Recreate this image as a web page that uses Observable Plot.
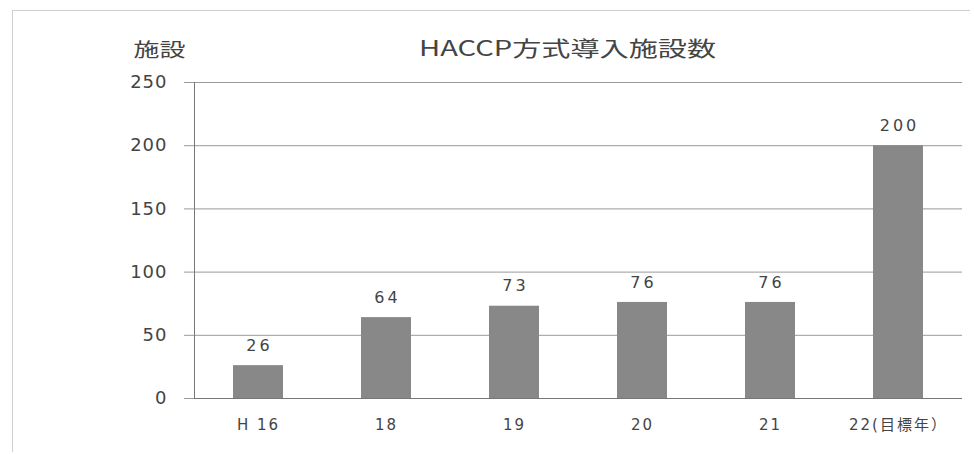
<!DOCTYPE html>
<html><head><meta charset="utf-8">
<script src="https://cdn.jsdelivr.net/npm/d3@7"></script>
<script src="https://cdn.jsdelivr.net/npm/@observablehq/plot@0.6"></script>
<style>
body{margin:0;background:#fff;}
#wrap{position:relative;width:974px;height:454px;}
#border{position:absolute;left:12px;top:10px;width:957px;height:441px;border:1px solid #cfcfcf;border-right:none;border-bottom:none;pointer-events:none;}
svg{display:block;}
g[aria-label="y-axis tick label"] text{letter-spacing:1px;font-family:'DejaVu Sans',sans-serif;}
g[aria-label="x-axis tick label"] text{letter-spacing:2px;font-family:'DejaVu Sans','Noto Sans CJK JP',sans-serif;}
.vlab text{letter-spacing:3px;font-family:'DejaVu Sans',sans-serif;}
</style></head>
<body><div id="wrap"><div id="border"></div></div>
<script>
const title = "HACCP方式導入施設数";
const yLabel = "施設";
const categories = ["H 16", "18", "19", "20", "21", "22(目標年）"];
const values = [26, 64, 73, 76, 76, 200];
const yTicks = [0, 50, 100, 150, 200, 250];

const data = categories.map((c, i) => ({cat: c, v: values[i]}));
const font = "'Noto Sans CJK JP', 'DejaVu Sans', sans-serif";
const ink = "#444";

const chart = Plot.plot({
  width: 974, height: 454,
  marginLeft: 194, marginRight: 12, marginTop: 82, marginBottom: 56,
  style: {fontFamily: font, fontSize: "15px", color: ink, background: "transparent"},
  x: {domain: categories, paddingInner: 0.61, paddingOuter: 0.305, label: null},
  y: {domain: [0, 250], ticks: yTicks, label: null},
  marks: [
    Plot.gridY(yTicks, {stroke: "#999", strokeOpacity: 1, strokeWidth: 1}),
    Plot.barY(data, {x: "cat", y: "v", fill: "#888888"}),
    Plot.ruleY([0], {stroke: "#777"}),
    Plot.frame({anchor: "left", stroke: "#777"}),
    Plot.axisY({ticks: yTicks, tickSize: 10, tickPadding: 17, fontSize: 18, fill: ink, stroke: "#999"}),
    Plot.axisX({tickSize: 0, tickPadding: 21, fontSize: 15, fill: ink}),
    Plot.text(data, {x: "cat", y: "v", text: d => String(d.v), dy: -20, dx: 1, fontSize: 16, fill: ink, className: "vlab"}),
    Plot.text([title], {frameAnchor: "top", dy: -41, dx: -11, fontSize: 21, fill: ink, className: "ttl"}),
    Plot.text([yLabel], {frameAnchor: "top-left", dx: -61, dy: -39, fontSize: 19, fill: ink, className: "ylab"})
  ]
});
d3.select(chart).select(".ttl text").attr("textLength", 297).attr("lengthAdjust", "spacingAndGlyphs");
d3.select(chart).select(".ylab text").attr("textLength", 52).attr("lengthAdjust", "spacingAndGlyphs");
document.getElementById("wrap").appendChild(chart);
</script></body></html>
